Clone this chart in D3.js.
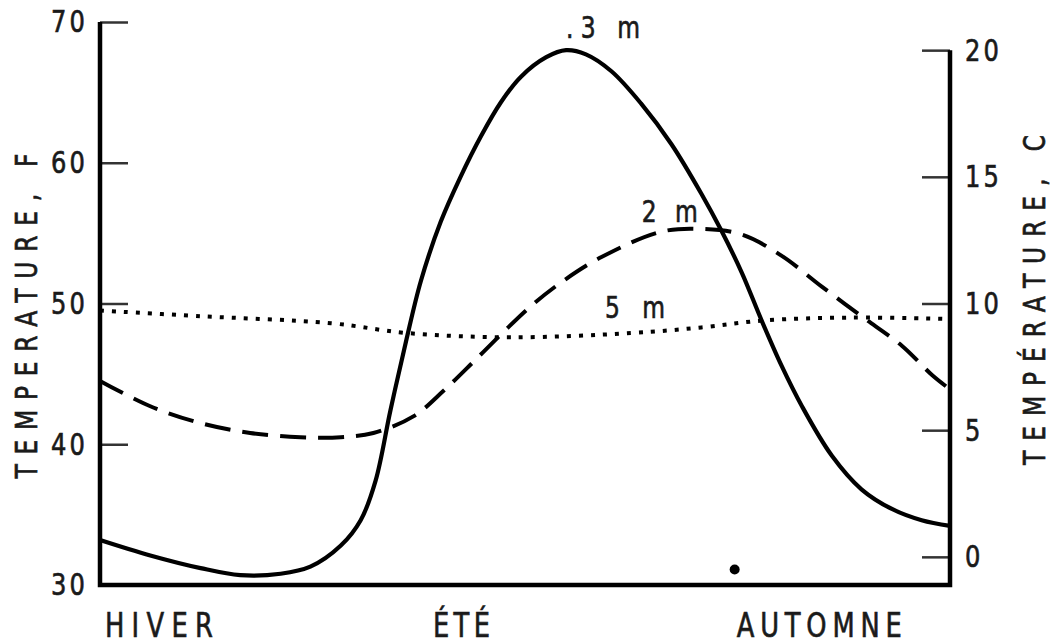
<!DOCTYPE html>
<html>
<head>
<meta charset="utf-8">
<script src="https://cdn.jsdelivr.net/npm/d3@7"></script>
<style>
  body { margin: 0; background: #fff; }
  text { font-family: "DejaVu Sans", sans-serif; fill: #1a1a1a; stroke: #1a1a1a; stroke-width: 0.7; }
</style>
</head>
<body>
<svg id="chart" width="1051" height="644"></svg>
<script>
// x = position through the year in months (0 = start of hiver, 12 = end of automne)
const seasons = ["HIVER", "ÉTÉ", "AUTOMNE"];
const seasonPos = [0.07, 4.70, 8.99];
const seasonLen = [108, 57, 165];

const leftTicks = [30, 40, 50, 60, 70];   // °F
const rightTicks = [0, 5, 10, 15, 20];    // °C

// .3 m depth (solid), °F
const depth03 = [
  [0.00, 33.2], [0.71, 32.1], [1.42, 31.2], [1.98, 30.7], [2.55, 30.8], [2.97, 31.3],
  [3.40, 32.8], [3.68, 34.6], [3.89, 37.4], [4.10, 42.4], [4.32, 47.3], [4.53, 51.6],
  [4.81, 55.8], [5.09, 59.0], [5.38, 61.9], [5.66, 64.3], [5.94, 66.1], [6.30, 67.5],
  [6.58, 68.0], [6.86, 67.7], [7.22, 66.5], [7.64, 64.2], [8.07, 61.3], [8.49, 57.8],
  [8.77, 55.2], [9.06, 52.2], [9.34, 48.8], [9.62, 45.6], [9.91, 42.7], [10.33, 39.2],
  [10.75, 36.8], [11.18, 35.4], [11.60, 34.6], [12.00, 34.2]
];
// 2 m depth (dashed), °F
const depth2 = [
  [0.00, 44.5], [0.71, 42.7], [1.42, 41.5], [2.12, 40.8], [2.83, 40.5], [3.40, 40.5],
  [3.86, 40.8], [4.43, 42.0], [4.85, 43.8], [5.28, 45.9], [5.70, 48.0], [6.08, 49.8],
  [6.51, 51.5], [7.08, 53.3], [7.92, 55.1], [8.49, 55.3], [9.06, 54.9], [9.62, 53.4],
  [10.19, 51.2], [10.75, 49.1], [11.32, 47.0], [11.75, 44.9], [12.00, 43.9]
];
// 5 m depth (dotted), °F
const depth5 = [
  [0.00, 49.5], [1.42, 49.1], [3.26, 48.6], [4.34, 47.9], [5.80, 47.6], [7.50, 47.9],
  [8.49, 48.3], [9.38, 48.8], [10.61, 49.0], [12.00, 48.9]
];

const marker = [[8.96, 31.1]];

const curveLabels = [
  { t: ".3 m", x: 6.58, y: 68.85, len: 74 },
  { t: "2 m", x: 7.65, y: 55.8, len: 56 },
  { t: "5 m", x: 7.13, y: 49.0, len: 60 }
];

const k = 0.78; // horizontal squeeze to imitate the narrow lettering

const svg = d3.select("#chart");
const mLeft = 100, mRight = 950, mTop = 22, mBottom = 585;

const x = d3.scaleLinear().domain([0, 12]).range([mLeft, mRight]);
const yF = d3.scaleLinear().domain([30, 70]).range([mBottom, mTop]);
const fToC = f => (f - 32) * 5 / 9;
const yC = d3.scaleLinear().domain([fToC(30), fToC(70)]).range([mBottom, mTop]);

// left axis (°F), ticks pointing inward
const gl = svg.append("g").attr("transform", `translate(${mLeft},0)`)
  .call(d3.axisLeft(yF).tickValues(leftTicks).tickSize(-28).tickPadding(12).tickFormat(d3.format("d")));
gl.select(".domain").remove();
gl.selectAll(".tick line").attr("stroke", "#333").attr("stroke-width", 2.5)
  .filter(d => d === 30).remove();
gl.selectAll(".tick text").attr("font-size", 31).attr("letter-spacing", 4)
  .attr("x", -12 / k).attr("transform", `scale(${k},1)`);

// right axis (°C)
const gr = svg.append("g").attr("transform", `translate(${mRight},0)`)
  .call(d3.axisRight(yC).tickValues(rightTicks).tickSize(-28).tickPadding(14).tickFormat(d3.format("d")));
gr.select(".domain").remove();
gr.selectAll(".tick line").attr("stroke", "#333").attr("stroke-width", 2.5);
gr.selectAll(".tick text").attr("font-size", 31).attr("letter-spacing", 4)
  .attr("x", 15 / k).attr("transform", `scale(${k},1)`);

// frame: left, bottom, right
svg.append("path")
  .attr("d", `M${mLeft},${yF(70)}V${mBottom}H${mRight}V${yC(20)}`)
  .attr("fill", "none").attr("stroke", "#000").attr("stroke-width", 4.5);

// curves
const line = d3.line().x(d => x(d[0])).y(d => yF(d[1])).curve(d3.curveCatmullRom.alpha(0.5));

svg.append("path").datum(depth03).attr("d", line)
  .attr("fill", "none").attr("stroke", "#000").attr("stroke-width", 4.2);
svg.append("path").datum(depth2).attr("d", line)
  .attr("fill", "none").attr("stroke", "#000").attr("stroke-width", 4)
  .attr("stroke-dasharray", "26,12");
svg.append("path").datum(depth5).attr("d", line)
  .attr("fill", "none").attr("stroke", "#000").attr("stroke-width", 4)
  .attr("stroke-dasharray", "4,8");

svg.selectAll(".marker").data(marker).enter().append("circle")
  .attr("class", "marker")
  .attr("cx", d => x(d[0])).attr("cy", d => yF(d[1])).attr("r", 5).attr("fill", "#000");

// curve labels
svg.selectAll(".clab").data(curveLabels).enter().append("text")
  .attr("class", "clab")
  .attr("transform", `scale(${k},1)`)
  .attr("x", d => x(d.x) / k).attr("y", d => yF(d.y))
  .attr("font-size", 30)
  .attr("textLength", d => d.len / k).attr("lengthAdjust", "spacing")
  .text(d => d.t);

// season labels
svg.selectAll(".season").data(seasons).enter().append("text")
  .attr("class", "season")
  .attr("transform", `scale(${k},1)`)
  .attr("x", (d, i) => x(seasonPos[i]) / k).attr("y", 637)
  .attr("font-size", 33)
  .attr("textLength", (d, i) => seasonLen[i] / k).attr("lengthAdjust", "spacing")
  .text(d => d);

// axis titles
svg.append("text")
  .attr("transform", `translate(37,316) rotate(-90) scale(${k},1)`)
  .attr("text-anchor", "middle").attr("font-size", 30)
  .attr("textLength", 325 / k).attr("lengthAdjust", "spacing")
  .text("TEMPERATURE, F");
svg.append("text")
  .attr("transform", `translate(1045,300) rotate(-90) scale(${k},1)`)
  .attr("text-anchor", "middle").attr("font-size", 30)
  .attr("textLength", 330 / k).attr("lengthAdjust", "spacing")
  .text("TEMPÉRATURE, C");
</script>
</body>
</html>
